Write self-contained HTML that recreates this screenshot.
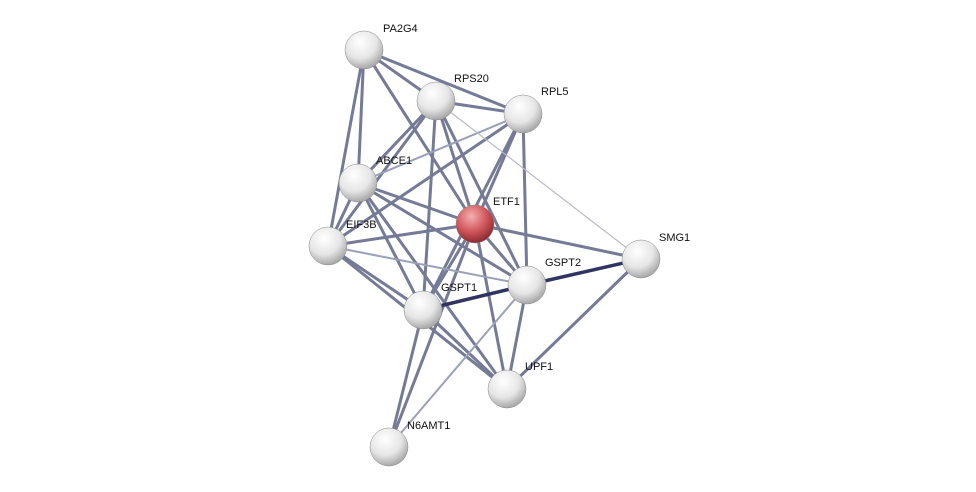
<!DOCTYPE html>
<html><head><meta charset="utf-8"><style>
html,body{margin:0;padding:0;background:#fff;}
svg{display:block;}
text{font-family:"Liberation Sans",sans-serif;font-size:11px;fill:#111;}
</style></head><body>
<svg width="976" height="492" viewBox="0 0 976 492" xmlns="http://www.w3.org/2000/svg">
<defs>
<radialGradient id="g" cx="40%" cy="30%" r="70%">
<stop offset="0" stop-color="#ffffff"/><stop offset="0.6" stop-color="#e6e6e6"/><stop offset="1" stop-color="#a8a8a8"/>
</radialGradient>
<radialGradient id="r" cx="40%" cy="30%" r="70%">
<stop offset="0" stop-color="#f4b0b0"/><stop offset="0.55" stop-color="#d25a5f"/><stop offset="1" stop-color="#8e2a30"/>
</radialGradient>
</defs>
<g stroke-linecap="round">
<g stroke="#5d6385" stroke-width="3" opacity="0.85">
<line x1="364" y1="50" x2="436" y2="101"/>
<line x1="364" y1="50" x2="523" y2="114"/>
<line x1="364" y1="50" x2="358" y2="183"/>
<line x1="364" y1="50" x2="328" y2="246"/>
<line x1="364" y1="50" x2="475" y2="224"/>
<line x1="436" y1="101" x2="523" y2="114"/>
<line x1="436" y1="101" x2="358" y2="183"/>
<line x1="436" y1="101" x2="475" y2="224"/>
<line x1="436" y1="101" x2="328" y2="246"/>
<line x1="436" y1="101" x2="423" y2="310"/>
<line x1="436" y1="101" x2="527" y2="285"/>
<line x1="523" y1="114" x2="475" y2="224"/>
<line x1="523" y1="114" x2="423" y2="310"/>
<line x1="523" y1="114" x2="527" y2="285"/>
<line x1="523" y1="114" x2="328" y2="246"/>
<line x1="358" y1="183" x2="475" y2="224"/>
<line x1="358" y1="183" x2="328" y2="246"/>
<line x1="358" y1="183" x2="423" y2="310"/>
<line x1="358" y1="183" x2="527" y2="285"/>
<line x1="358" y1="183" x2="507" y2="389"/>
<line x1="475" y1="224" x2="328" y2="246"/>
<line x1="475" y1="224" x2="641" y2="259"/>
<line x1="475" y1="224" x2="527" y2="285"/>
<line x1="475" y1="224" x2="423" y2="310"/>
<line x1="475" y1="224" x2="507" y2="389"/>
<line x1="475" y1="224" x2="389" y2="447"/>
<line x1="328" y1="246" x2="423" y2="310"/>
<line x1="328" y1="246" x2="507" y2="389"/>
<line x1="641" y1="259" x2="507" y2="389"/>
<line x1="527" y1="285" x2="507" y2="389"/>
<line x1="423" y1="310" x2="507" y2="389"/>
<line x1="423" y1="310" x2="389" y2="447"/>
</g>
<g stroke="#9aa0b8" stroke-width="2">
<line x1="523" y1="114" x2="358" y2="183"/>
<line x1="328" y1="246" x2="527" y2="285"/>
<line x1="527" y1="285" x2="389" y2="447"/>
</g>
<line x1="436" y1="101" x2="641" y2="259" stroke="#b8bac8" stroke-width="1.2"/>
<line x1="641" y1="259" x2="527" y2="285" stroke="#2f3560" stroke-width="3.5"/>
<line x1="527" y1="285" x2="423" y2="310" stroke="#2f3560" stroke-width="3.5"/>
</g>
<g stroke="#888" stroke-width="0.5">
<circle cx="364" cy="50" r="19" fill="url(#g)"/>
<circle cx="436" cy="101" r="19" fill="url(#g)"/>
<circle cx="523" cy="114" r="19" fill="url(#g)"/>
<circle cx="358" cy="183" r="19" fill="url(#g)"/>
<circle cx="475" cy="224" r="19" fill="url(#r)"/>
<circle cx="328" cy="246" r="19" fill="url(#g)"/>
<circle cx="641" cy="259" r="19" fill="url(#g)"/>
<circle cx="527" cy="285" r="19" fill="url(#g)"/>
<circle cx="423" cy="310" r="19" fill="url(#g)"/>
<circle cx="507" cy="389" r="19" fill="url(#g)"/>
<circle cx="389" cy="447" r="19" fill="url(#g)"/>
</g>
<text x="383" y="32">PA2G4</text>
<text x="454" y="82">RPS20</text>
<text x="541" y="95">RPL5</text>
<text x="376" y="164">ABCE1</text>
<text x="493" y="205">ETF1</text>
<text x="346" y="228">EIF3B</text>
<text x="659" y="241">SMG1</text>
<text x="545" y="266">GSPT2</text>
<text x="441" y="291">GSPT1</text>
<text x="525" y="370">UPF1</text>
<text x="407" y="429">N6AMT1</text>
</svg>
</body></html>
